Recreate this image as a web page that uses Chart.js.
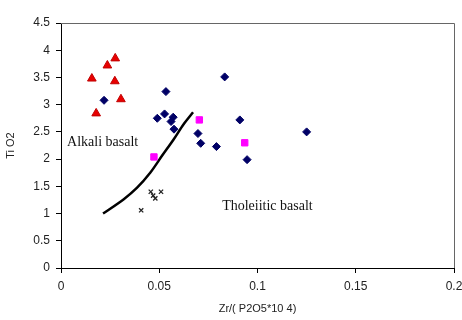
<!DOCTYPE html>
<html>
<head>
<meta charset="utf-8">
<script src="https://cdn.jsdelivr.net/npm/chart.js@4"></script>
<style>
  html, body { margin: 0; padding: 0; background: #fff; }
  #wrap { width: 462px; height: 320px; }
</style>
</head>
<body>
<div id="wrap"><canvas id="myChart" width="462" height="320"></canvas></div>
<script>
// values
var alkaliX = [0.0157, 0.0236, 0.0276, 0.0274, 0.0305, 0.0179];
var alkaliY = [3.48, 3.72, 3.85, 3.43, 3.10, 2.84];

var diamondX = [0.0219, 0.0534, 0.0490, 0.0527, 0.0571, 0.0560, 0.0575, 0.0697, 0.0711, 0.0833, 0.0910, 0.0791, 0.0947, 0.1250];
var diamondY = [3.08, 3.24, 2.75, 2.83, 2.77, 2.69, 2.55, 2.47, 2.29, 3.51, 2.72, 2.23, 1.99, 2.50];

var squareX = [0.0473, 0.0704, 0.0935];
var squareY = [2.04, 2.72, 2.30];

var crossX = [0.0457, 0.0509, 0.0480, 0.0469, 0.0408];
var crossY = [1.40, 1.40, 1.28, 1.33, 1.06];

var curveX = [0.0214, 0.0318, 0.0386, 0.0454, 0.0514, 0.0573, 0.0624, 0.0672];
var curveY = [1.00, 1.26, 1.47, 1.75, 2.06, 2.36, 2.64, 2.86];

var xTicks = [0, 0.05, 0.1, 0.15, 0.2];
var yTicks = [0, 0.5, 1, 1.5, 2, 2.5, 3, 3.5, 4, 4.5];

function pts(xs, ys) {
    var out = [];
    for (let i = 0; i < xs.length; i++) { out.push({x: xs[i], y: ys[i]}); }
    return out;
}

// frame round the plot area + the two field names
var decor = {
    id: 'decor',
    afterDatasetsDraw: function(chart) {
        var ctx = chart.ctx, a = chart.chartArea;
        var sx = chart.scales.x, sy = chart.scales.y;
        ctx.save();
        ctx.strokeStyle = '#666';
        ctx.lineWidth = 1;
        ctx.beginPath();
        ctx.moveTo(a.left, a.top + 0.5);
        ctx.lineTo(a.right + 0.5, a.top + 0.5);
        ctx.lineTo(a.right + 0.5, a.bottom);
        ctx.stroke();
        ctx.fillStyle = '#111';
        ctx.font = '14px "Liberation Serif", "DejaVu Serif", serif';
        ctx.textBaseline = 'middle';
        ctx.textAlign = 'left';
        ctx.fillText('Alkali basalt', sx.getPixelForValue(0.0031), sy.getPixelForValue(2.3));
        ctx.fillText('Tholeiitic basalt', sx.getPixelForValue(0.0820), sy.getPixelForValue(1.13));
        ctx.restore();
    }
};

var tickFont = {family: '"Liberation Sans", Arial, sans-serif', size: 12};
function plain(v) { return String(v); }

new Chart(document.getElementById('myChart'), {
    type: 'scatter',
    data: {
        datasets: [
            {label: 'curve', data: pts(curveX, curveY), showLine: true, borderColor: '#000', borderWidth: 2.5,
             pointRadius: 0, tension: 0.3, order: 5},
            {label: 'alkali', data: pts(alkaliX, alkaliY), pointStyle: 'triangle', pointRadius: 5,
             backgroundColor: '#e80000', borderColor: '#c00000', borderWidth: 1},
            {label: 'diamonds', data: pts(diamondX, diamondY), pointStyle: 'rectRot', pointRadius: 4,
             backgroundColor: '#000066', borderColor: '#000066', borderWidth: 1},
            {label: 'squares', data: pts(squareX, squareY), pointStyle: 'rect', pointRadius: 4.5,
             backgroundColor: '#ff00ff', borderColor: '#ff00ff', borderWidth: 1},
            {label: 'crosses', data: pts(crossX, crossY), pointStyle: 'crossRot', pointRadius: 3,
             backgroundColor: '#222', borderColor: '#222', borderWidth: 1.3}
        ]
    },
    options: {
        responsive: false,
        animation: false,
        layout: {padding: {left: 0, top: 23, right: 8, bottom: 0}},
        plugins: {legend: {display: false}, tooltip: {enabled: false}},
        scales: {
            x: {
                type: 'linear', min: 0, max: 0.2,
                afterBuildTicks: function(s) { s.ticks = xTicks.map(function(v) { return {value: v}; }); },
                afterFit: function(s) { s.height = 52; s.paddingLeft = 0; s.paddingRight = 0; },
                grid: {drawOnChartArea: false, drawTicks: true, tickLength: 5, color: '#000'},
                border: {display: true, color: '#000', width: 1},
                ticks: {color: '#222', font: tickFont, padding: 6, maxRotation: 0, callback: plain},
                title: {display: true, text: 'Zr/( P2O5*10 4)', color: '#222',
                        font: {family: '"Liberation Sans", Arial, sans-serif', size: 11}, padding: {top: 4}}
            },
            y: {
                type: 'linear', min: 0, max: 4.5,
                afterBuildTicks: function(s) { s.ticks = yTicks.map(function(v) { return {value: v}; }); },
                afterFit: function(s) { s.width = 61; s.paddingTop = 0; s.paddingBottom = 0; },
                grid: {drawOnChartArea: false, drawTicks: true, tickLength: 5, color: '#000'},
                border: {display: true, color: '#000', width: 1},
                ticks: {color: '#222', font: tickFont, padding: 6, callback: plain},
                title: {display: true, text: 'Ti O2', color: '#222',
                        font: {family: '"Liberation Sans", Arial, sans-serif', size: 11}, padding: {bottom: 2}}
            }
        }
    },
    plugins: [decor]
});
</script>
</body>
</html>
